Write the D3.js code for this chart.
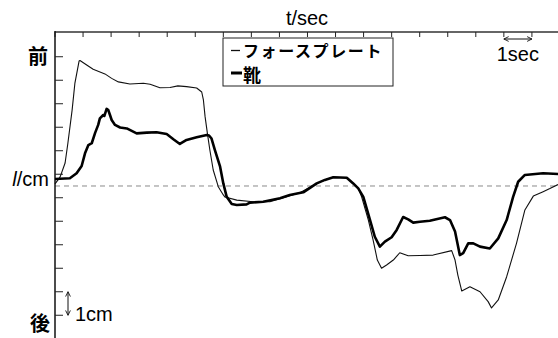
<html>
<head>
<meta charset="utf-8">
<script src="https://d3js.org/d3.v7.min.js"></script>
<style>
  body { margin: 0; background: #fff; }
  text { font-family: "Liberation Sans", Arial, sans-serif; }
  .jp { font-family: "Noto Sans CJK JP", sans-serif; }
</style>
</head>
<body>
<svg></svg>
<script>
const width = 558;
const height = 338;

// force plate (thin line): t in sec, l in cm
const plateT = [0, 0.18, 0.36, 0.46, 0.61, 0.71, 0.86, 0.89, 1.13, 1.36, 1.78, 2.02, 2.26, 2.67, 3.15, 3.39, 3.74, 4.10, 4.38, 4.69, 5.05, 5.23, 5.29, 5.35, 5.43, 5.52, 5.64, 5.82, 6.00, 6.06, 6.48, 7.06, 7.66, 8.26, 8.73, 9.33, 9.62, 9.92, 10.40, 10.63, 10.81, 10.93, 11.17, 11.34, 11.49, 11.64, 11.82, 12.06, 12.29, 12.59, 13.01, 13.48, 14.14, 14.26, 14.36, 14.50, 14.79, 15.15, 15.44, 15.56, 15.80, 16.10, 16.45, 16.75, 17.05, 17.40, 17.64, 17.93];
const plateL = [0.09, 0.38, 0.98, 1.83, 3.23, 4.38, 5.32, 5.34, 5.15, 4.97, 4.77, 4.58, 4.43, 4.34, 4.37, 4.33, 4.18, 4.19, 4.26, 4.23, 4.17, 4.00, 3.66, 2.95, 2.26, 1.53, 0.68, -0.03, -0.38, -0.47, -0.60, -0.67, -0.67, -0.46, -0.29, 0.11, 0.26, 0.37, 0.35, 0.11, -0.10, -0.46, -1.45, -2.30, -3.15, -3.50, -3.36, -3.15, -2.84, -2.97, -2.96, -2.94, -2.75, -3.15, -3.79, -4.47, -4.29, -4.50, -4.92, -5.19, -4.85, -3.86, -2.44, -1.02, -0.43, -0.24, -0.11, 0.06];

// shoe (thick line)
const shoeT = [0, 0.53, 0.77, 0.95, 1.07, 1.19, 1.31, 1.43, 1.54, 1.60, 1.72, 1.76, 1.84, 1.90, 1.96, 2.02, 2.14, 2.32, 2.56, 2.91, 3.27, 3.62, 3.98, 4.22, 4.45, 4.69, 5.05, 5.41, 5.49, 5.58, 5.70, 5.88, 6.00, 6.12, 6.30, 6.48, 6.83, 6.95, 7.42, 8.02, 8.37, 8.85, 9.33, 9.62, 9.92, 10.40, 10.63, 10.81, 10.99, 11.23, 11.40, 11.58, 11.76, 12.00, 12.18, 12.41, 12.59, 12.77, 13.01, 13.36, 13.90, 14.08, 14.26, 14.43, 14.55, 14.73, 14.91, 15.15, 15.50, 15.80, 16.10, 16.33, 16.51, 16.75, 17.40, 17.93];
const shoeL = [0.30, 0.33, 0.54, 0.85, 1.39, 1.74, 1.82, 2.26, 2.60, 2.88, 3.02, 2.98, 3.28, 3.23, 3.02, 2.81, 2.60, 2.49, 2.45, 2.24, 2.27, 2.29, 2.21, 1.99, 1.79, 1.96, 2.07, 2.17, 2.15, 2.02, 1.53, 0.85, 0.11, -0.46, -0.77, -0.81, -0.78, -0.71, -0.67, -0.52, -0.38, -0.27, 0.11, 0.26, 0.37, 0.35, 0.11, -0.10, -0.46, -1.45, -2.16, -2.58, -2.37, -2.18, -1.87, -1.32, -1.42, -1.56, -1.52, -1.48, -1.33, -1.45, -1.94, -2.94, -2.86, -2.44, -2.44, -2.58, -2.66, -2.23, -1.45, -0.46, 0.18, 0.47, 0.54, 0.51];

const xTicks = d3.range(0, 18);
const yTicks = [-5.5, -4.5, -3.5, -2.5, -1.5, -0.5, 0.5, 1.5, 2.5, 3.5, 4.5, 5.5];
const legendLabels = ["フォースプレート", "靴"];

const svg = d3.select("svg").attr("width", width).attr("height", height);

const x = d3.scaleLinear().domain([0, 17.93]).range([55, 558]);
const y = d3.scaleLinear().domain([-6.468, 6.553]).range([338, 32]);

// zero reference line
svg.append("line")
  .attr("x1", x(0)).attr("x2", x(17.93))
  .attr("y1", y(0)).attr("y2", y(0))
  .attr("stroke", "#8a8a8a").attr("stroke-width", 1)
  .attr("stroke-dasharray", "5,4");

// top axis
svg.append("line")
  .attr("x1", 55).attr("x2", 558).attr("y1", 32).attr("y2", 32)
  .attr("stroke", "#666").attr("stroke-width", 2);
svg.selectAll(".xt").data(xTicks).enter().append("line")
  .attr("x1", d => x(d)).attr("x2", d => x(d))
  .attr("y1", 32).attr("y2", 37)
  .attr("stroke", "#222").attr("stroke-width", 1);

// left axis
svg.append("line")
  .attr("x1", 55).attr("x2", 55).attr("y1", 31).attr("y2", 338)
  .attr("stroke", "#111").attr("stroke-width", 1.5);
svg.selectAll(".yt").data(yTicks).enter().append("line")
  .attr("x1", 55).attr("x2", 63)
  .attr("y1", d => y(d)).attr("y2", d => y(d))
  .attr("stroke", "#222").attr("stroke-width", 1);

const line = d3.line().x(d => x(d[0])).y(d => y(d[1]));

svg.append("path")
  .datum(d3.zip(plateT, plateL))
  .attr("fill", "none").attr("stroke", "#111").attr("stroke-width", 1.1)
  .attr("stroke-linejoin", "round")
  .attr("d", line);

svg.append("path")
  .datum(d3.zip(shoeT, shoeL))
  .attr("fill", "none").attr("stroke", "#000").attr("stroke-width", 2.6)
  .attr("stroke-linejoin", "round")
  .attr("d", line);

// legend
svg.append("rect")
  .attr("x", 223).attr("y", 38).attr("width", 170).attr("height", 48)
  .attr("fill", "#fff").attr("stroke", "#222").attr("stroke-width", 1);
svg.append("line").attr("x1", 231).attr("x2", 240).attr("y1", 50.5).attr("y2", 50.5)
  .attr("stroke", "#111").attr("stroke-width", 1.3);
svg.append("line").attr("x1", 231).attr("x2", 242).attr("y1", 73).attr("y2", 73)
  .attr("stroke", "#000").attr("stroke-width", 3);
svg.append("text").attr("class", "jp")
  .attr("x", 243).attr("y", 50).attr("dominant-baseline", "central")
  .attr("font-size", 16).attr("font-weight", 700).attr("letter-spacing", 1.6)
  .text(legendLabels[0]);
svg.append("text").attr("class", "jp")
  .attr("x", 243).attr("y", 74).attr("dominant-baseline", "central")
  .attr("font-size", 18).attr("font-weight", 700)
  .text(legendLabels[1]);

// axis titles
svg.append("text").attr("x", 307).attr("y", 25).attr("text-anchor", "middle")
  .attr("font-size", 20).text("t/sec");
const lt = svg.append("text").attr("x", 49).attr("y", 186).attr("text-anchor", "end")
  .attr("font-size", 20);
lt.append("tspan").attr("font-style", "italic").text("l");
lt.append("tspan").text("/cm");

svg.append("text").attr("class", "jp").attr("x", 48).attr("y", 55)
  .attr("text-anchor", "end").attr("dominant-baseline", "central")
  .attr("font-size", 20).attr("font-weight", 700).text("前");
svg.append("text").attr("class", "jp").attr("x", 50).attr("y", 322)
  .attr("text-anchor", "end").attr("dominant-baseline", "central")
  .attr("font-size", 20).attr("font-weight", 700).text("後");

// scale markers
const defs = svg.append("defs");
defs.append("marker").attr("id", "ah").attr("viewBox", "0 0 10 10")
  .attr("refX", 9).attr("refY", 5).attr("markerWidth", 6).attr("markerHeight", 6)
  .attr("orient", "auto-start-reverse")
  .append("path").attr("d", "M1,1 L9,5 L1,9").attr("fill", "none").attr("stroke", "#111").attr("stroke-width", 1.5);

svg.append("line")
  .attr("x1", x(16)).attr("x2", x(17)).attr("y1", 39).attr("y2", 39)
  .attr("stroke", "#111").attr("stroke-width", 1)
  .attr("marker-start", "url(#ah)").attr("marker-end", "url(#ah)");
svg.append("text").attr("x", (x(16) + x(17)) / 2).attr("y", 61).attr("text-anchor", "middle")
  .attr("font-size", 20).text("1sec");

svg.append("line")
  .attr("x1", 68).attr("x2", 68).attr("y1", y(-4.5)).attr("y2", y(-5.5))
  .attr("stroke", "#111").attr("stroke-width", 1)
  .attr("marker-start", "url(#ah)").attr("marker-end", "url(#ah)");
svg.append("text").attr("x", 75).attr("y", 321)
  .attr("font-size", 20).text("1cm");
</script>
</body>
</html>
